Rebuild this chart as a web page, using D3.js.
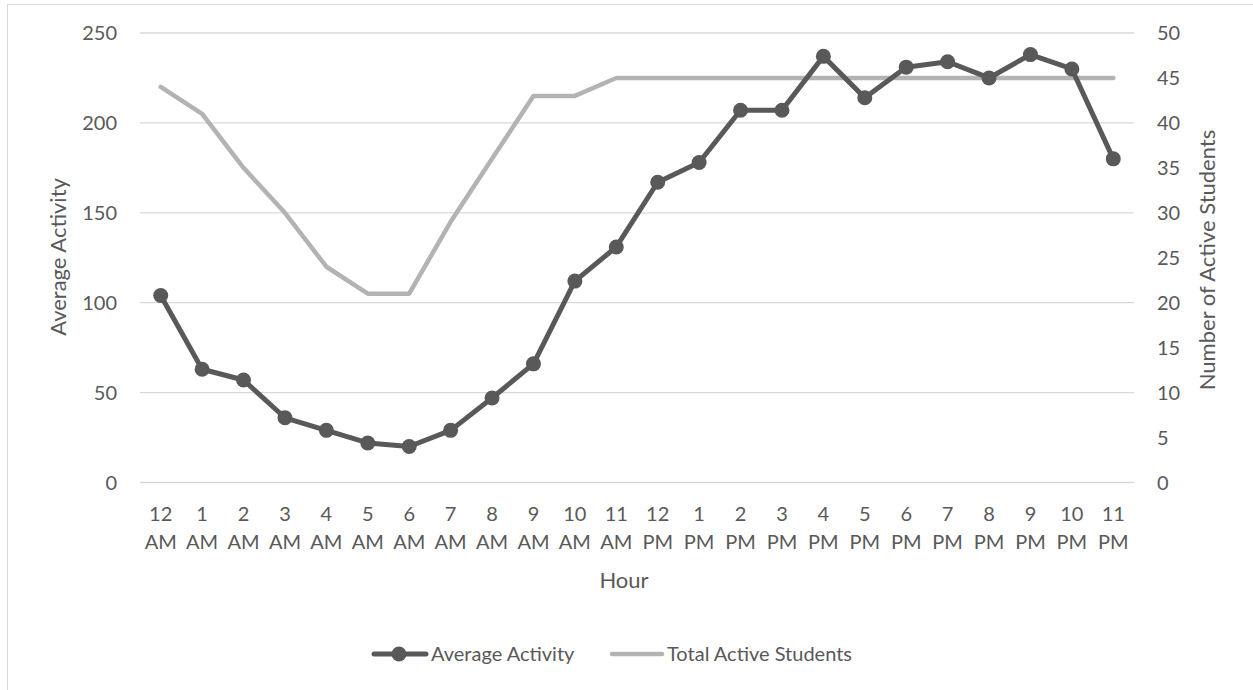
<!DOCTYPE html>
<html>
<head>
<meta charset="utf-8">
<script src="https://cdn.jsdelivr.net/npm/d3@7"></script>
<style>
  html, body { margin: 0; padding: 0; background: #fff; }
  svg { display: block; }
  text { font-family: Lato, "Open Sans", sans-serif; fill: #595959; }
</style>
</head>
<body>
<svg id="chart" width="1253" height="690"></svg>
<script>
const hours = ["12","1","2","3","4","5","6","7","8","9","10","11","12","1","2","3","4","5","6","7","8","9","10","11"];
const periods = ["AM","AM","AM","AM","AM","AM","AM","AM","AM","AM","AM","AM","PM","PM","PM","PM","PM","PM","PM","PM","PM","PM","PM","PM"];
const averageActivity = [104, 63, 57, 36, 29, 22, 20, 29, 47, 66, 112, 131, 167, 178, 207, 207, 237, 214, 231, 234, 225, 238, 230, 180];
const totalActiveStudents = [44, 41, 35, 30, 24, 21, 21, 29, 36, 43, 43, 45, 45, 45, 45, 45, 45, 45, 45, 45, 45, 45, 45, 45];
const leftTicks = [0, 50, 100, 150, 200, 250];
const rightTicks = [0, 5, 10, 15, 20, 25, 30, 35, 40, 45, 50];

const svg = d3.select("#chart");
const categories = hours.map((h, i) => i);

const x = d3.scalePoint().domain(categories).range([140, 1134]).padding(0.5);
const yL = d3.scaleLinear().domain([0, 250]).range([482.5, 33]);
const yR = d3.scaleLinear().domain([0, 50]).range([482.5, 33]);

// outer border
svg.append("rect").attr("x", 7.5).attr("y", 4.5).attr("width", 1260).attr("height", 700)
  .attr("fill", "none").attr("stroke", "#d9d9d9").attr("stroke-width", 1);

// gridlines
svg.append("g").selectAll("line").data(leftTicks).join("line")
  .attr("x1", 140).attr("x2", 1134)
  .attr("y1", d => yL(d)).attr("y2", d => yL(d))
  .attr("stroke", "#d9d9d9").attr("stroke-width", 1.3);

// left tick labels
svg.append("g").selectAll("text").data(leftTicks).join("text")
  .attr("x", 117).attr("y", d => yL(d)).attr("dy", "0.35em")
  .attr("text-anchor", "end").style("font-size", "20px").text(d => d);

// right tick labels
svg.append("g").selectAll("text").data(rightTicks).join("text")
  .attr("x", 1157).attr("y", d => yR(d)).attr("dy", "0.35em")
  .attr("text-anchor", "start").style("font-size", "20px").text(d => d);

// category labels
const cat = svg.append("g").selectAll("text").data(categories).join("text")
  .attr("text-anchor", "middle").style("font-size", "20px");
cat.append("tspan").attr("x", d => x(d)).attr("y", 514).attr("dy", "0.35em").text(d => hours[d]);
cat.append("tspan").attr("x", d => x(d)).attr("y", 542).attr("dy", "0.35em").text(d => periods[d]);

// axis titles
svg.append("text").attr("transform", "translate(58,257) rotate(-90)")
  .attr("text-anchor", "middle").attr("dy", "0.35em").style("font-size", "22px").text("Average Activity");
svg.append("text").attr("transform", "translate(1207,260) rotate(-90)")
  .attr("text-anchor", "middle").attr("dy", "0.35em").style("font-size", "22px").text("Number of Active Students");
svg.append("text").attr("x", 624).attr("y", 580).attr("dy", "0.35em")
  .attr("text-anchor", "middle").style("font-size", "22px").text("Hour");

// total active students line
const lineR = d3.line().x((d, i) => x(i)).y(d => yR(d));
svg.append("path").datum(totalActiveStudents).attr("d", lineR)
  .attr("fill", "none").attr("stroke", "#b3b3b3").attr("stroke-width", 4.5)
  .attr("stroke-linejoin", "round").attr("stroke-linecap", "round");

// average activity line
const lineL = d3.line().x((d, i) => x(i)).y(d => yL(d));
svg.append("path").datum(averageActivity).attr("d", lineL)
  .attr("fill", "none").attr("stroke", "#595959").attr("stroke-width", 5)
  .attr("stroke-linejoin", "round").attr("stroke-linecap", "round");
svg.append("g").selectAll("circle").data(averageActivity).join("circle")
  .attr("cx", (d, i) => x(i)).attr("cy", d => yL(d)).attr("r", 7.5)
  .attr("fill", "#595959");

// legend
const lg = svg.append("g");
lg.append("line").attr("x1", 374).attr("x2", 426).attr("y1", 654).attr("y2", 654)
  .attr("stroke", "#595959").attr("stroke-width", 5).attr("stroke-linecap", "round");
lg.append("circle").attr("cx", 399).attr("cy", 654).attr("r", 7.5).attr("fill", "#595959");
lg.append("text").attr("x", 431).attr("y", 654).attr("dy", "0.35em").style("font-size", "20px").text("Average Activity");
lg.append("line").attr("x1", 612).attr("x2", 662).attr("y1", 654).attr("y2", 654)
  .attr("stroke", "#b3b3b3").attr("stroke-width", 4.5).attr("stroke-linecap", "round");
lg.append("text").attr("x", 667).attr("y", 654).attr("dy", "0.35em").style("font-size", "20px").text("Total Active Students");
</script>
</body>
</html>
